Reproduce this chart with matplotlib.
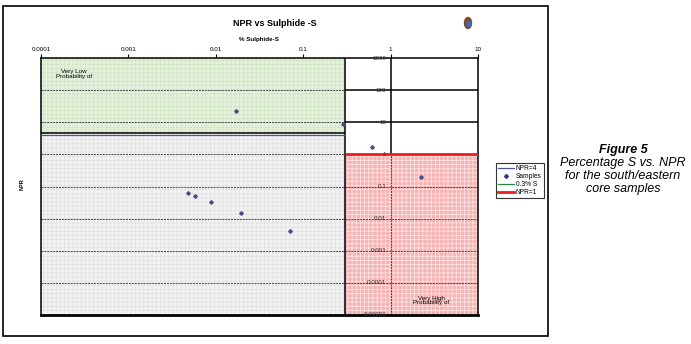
import matplotlib
matplotlib.use("Agg")
import matplotlib.pyplot as plt
from matplotlib.patches import Rectangle, Ellipse
from matplotlib.lines import Line2D

plt.rcParams['font.family'] = ['Liberation Sans', 'DejaVu Sans']
plt.rcParams['hatch.linewidth'] = 0.6

# data
x_ticks = [0.0001, 0.001, 0.01, 0.1, 1, 10]
x_labels = ['0.0001', '0.001', '0.01', '0.1', '1', '10']
y_ticks = [0.00001, 0.0001, 0.001, 0.01, 0.1, 1, 10, 100, 1000]
y_labels = ['0.00001', '0.0001', '0.001', '0.01', '0.1', '1', '10', '100', '1000']

sample_s = [0.0169, 0.288, 0.62, 2.24, 0.0048, 0.00577, 0.00888, 0.0196, 0.0705]
sample_npr = [22.3, 9.0, 1.7, 0.196, 0.0622, 0.0517, 0.0336, 0.0148, 0.00408]

s_limit = 0.3        # 0.3% S
npr_high = 4         # NPR=4
npr_low = 1          # NPR=1
green_bottom = 4.5

W, H = 691, 344
fig = plt.figure(figsize=(W / 100, H / 100), dpi=100)
ax = fig.add_axes([41 / W, 1 - 315 / H, (478 - 41) / W, (315 - 58) / H])
ax.set_xscale('log')
ax.set_yscale('log')
ax.set_xlim(x_ticks[0], x_ticks[-1])
ax.set_ylim(y_ticks[0], y_ticks[-1])

# shaded zones
ax.fill_between([x_ticks[0], s_limit], green_bottom, y_ticks[-1], facecolor='#e6f1dd',
                edgecolor='#d2e5c5', hatch='++++', linewidth=0, zorder=0)
ax.fill_between([x_ticks[0], s_limit], y_ticks[0], green_bottom, facecolor='#f3f3f3',
                edgecolor='#e2e2e2', hatch='++++', linewidth=0, zorder=0)
ax.fill_between([s_limit, x_ticks[-1]], y_ticks[0], npr_low, facecolor='#f6b3b3',
                edgecolor='#fde2e2', hatch='++++', linewidth=0, zorder=0)

# grid lines
for yv in y_ticks[1:-1]:
    ax.hlines(yv, x_ticks[0], s_limit, colors='#444444', linestyles=(0, (2, 1)), lw=0.7, zorder=1)
    if yv > npr_low:
        ax.hlines(yv, s_limit, x_ticks[-1], colors='black', lw=1.1, zorder=1)
    else:
        ax.hlines(yv, s_limit, x_ticks[-1], colors='#444444', linestyles=(0, (2, 1)), lw=0.7, zorder=1)
ax.vlines(1, npr_low, y_ticks[-1], colors='black', lw=1.1, zorder=1)
ax.vlines(1, y_ticks[0], npr_low, colors='#444444', linestyles=(0, (2, 1)), lw=0.7, zorder=1)

# zone borders
ax.hlines(green_bottom, x_ticks[0], s_limit, colors='black', lw=1.1, zorder=2)
ax.vlines(s_limit, y_ticks[0], y_ticks[-1], colors='black', lw=1.1, zorder=2)

# reference lines
ax.hlines(npr_high, x_ticks[0], s_limit, colors='#4a55a8', lw=0.9, zorder=3)
ax.hlines(npr_low, s_limit, x_ticks[-1], colors='#ee1c1c', lw=2, zorder=3)

ax.plot(sample_s, sample_npr, linestyle='none', marker='D', ms=1.8,
        color='#4a4a8a', zorder=4)

for sp in ax.spines.values():
    sp.set_linewidth(1.1)
ax.spines['bottom'].set_linewidth(2)

ax.xaxis.tick_top()
ax.set_xticks(x_ticks)
ax.set_xticklabels(x_labels, fontsize=4.5)
ax.minorticks_off()
ax.tick_params(axis='x', which='major', length=3, width=0.8, pad=1)
ax.set_yticks([])
ax.tick_params(axis='y', which='both', left=False, labelleft=False)

for yv, lab in zip(y_ticks, y_labels):
    ax.annotate(lab, (1, yv), xytext=(-3, 0), textcoords='offset points',
                ha='right', va='center', fontsize=4.5, color='#333333', zorder=5)

ax.text(0.00024, 320, 'Very Low\nProbability of', fontsize=4.5, ha='center', va='center',
        linespacing=0.9)
ax.text(2.9, 0.000028, 'Very High\nProbability of', fontsize=4.5, ha='center', va='center',
        linespacing=0.9)

fig.text(275 / W, 1 - 23 / H, 'NPR vs Sulphide -S', fontsize=6.5, fontweight='bold',
         ha='center', va='center')
fig.text(259 / W, 1 - 39 / H, '% Sulphide-S', fontsize=4.5, fontweight='bold',
         ha='center', va='center')
fig.text(22 / W, 1 - 184 / H, 'NPR', fontsize=4, fontweight='bold', rotation=90,
         ha='center', va='center')

# little logo
fig.patches.append(Ellipse((468 / W, 1 - 23 / H), 7 / W, 11 / H, color='#7a4a2a',
                           transform=fig.transFigure))
fig.patches.append(Ellipse((469 / W, 1 - 24 / H), 4 / W, 5 / H, color='#3a6fc0',
                           transform=fig.transFigure))

# outer frame
fig.patches.append(Rectangle((3 / W, 1 - 336 / H), 545 / W, 330 / H, fill=False,
                             lw=1.2, edgecolor='black', transform=fig.transFigure))

handles = [Line2D([], [], color='#4a55a8', lw=0.9),
           Line2D([], [], color='#3b3b85', marker='D', ms=2, linestyle='none'),
           Line2D([], [], color='#1f8a3a', lw=0.9),
           Line2D([], [], color='#ee1c1c', lw=2)]
leg = fig.legend(handles, ['NPR=4', 'Samples', '0.3% S', 'NPR=1'], loc='upper left',
                 bbox_to_anchor=(496 / W, 1 - 163 / H), fontsize=4.8, frameon=True,
                 fancybox=False, edgecolor='black', handlelength=2.4, handletextpad=0.3,
                 borderpad=0.3, labelspacing=0.15, borderaxespad=0)
leg.get_frame().set_linewidth(0.8)

cap_x = 623 / W
fig.text(cap_x, 1 - 150 / H, 'Figure 5', fontsize=9, style='italic', fontweight='bold',
         ha='center', va='center')
fig.text(cap_x, 1 - 163 / H, 'Percentage S vs. NPR', fontsize=9, style='italic',
         ha='center', va='center')
fig.text(cap_x, 1 - 176 / H, 'for the south/eastern', fontsize=9, style='italic',
         ha='center', va='center')
fig.text(cap_x, 1 - 189 / H, 'core samples', fontsize=9, style='italic',
         ha='center', va='center')

fig.savefig('out.png', dpi=100)
